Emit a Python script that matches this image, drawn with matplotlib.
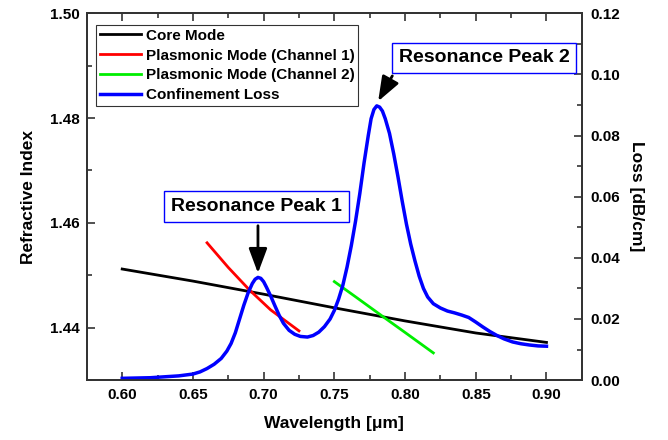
import matplotlib
matplotlib.use("Agg")
import matplotlib.pyplot as plt
from matplotlib.ticker import MultipleLocator

plt.rcParams["font.family"] = ["Liberation Sans", "DejaVu Sans"]
plt.rcParams["font.weight"] = "bold"

# values
core_wl = [0.60, 0.65, 0.70, 0.75, 0.80, 0.85, 0.90]
core_n = [1.4512, 1.4489, 1.4464, 1.4438, 1.4413, 1.4390, 1.4372]

ch1_wl = [0.660, 0.675, 0.690, 0.705, 0.725]
ch1_n = [1.4562, 1.4515, 1.4472, 1.4434, 1.4394]

ch2_wl = [0.750, 0.765, 0.785, 0.800, 0.820]
ch2_n = [1.4488, 1.4459, 1.4420, 1.4391, 1.4352]

loss_wl = [0.600, 0.620, 0.640, 0.650, 0.655, 0.660, 0.665, 0.670, 0.674, 0.677,
           0.680, 0.683, 0.686, 0.689, 0.692, 0.694, 0.696, 0.698, 0.700, 0.702,
           0.705, 0.708, 0.711, 0.714, 0.718, 0.722, 0.726, 0.731, 0.735, 0.739,
           0.743, 0.747, 0.750, 0.753, 0.756, 0.759, 0.762, 0.765, 0.768, 0.771,
           0.774, 0.776, 0.778, 0.780, 0.782, 0.784, 0.786, 0.789, 0.792, 0.795,
           0.798, 0.801, 0.804, 0.807, 0.810, 0.813, 0.816, 0.820, 0.825, 0.830,
           0.835, 0.840, 0.845, 0.850, 0.855, 0.860, 0.865, 0.870, 0.876, 0.882,
           0.888, 0.894, 0.900]
loss_db = [0.0006, 0.0008, 0.0014, 0.0020, 0.0027, 0.0038, 0.0052, 0.0071, 0.0095, 0.0120,
           0.0155, 0.0200, 0.0245, 0.0285, 0.0316, 0.0330, 0.0336, 0.0333, 0.0322, 0.0304,
           0.0275, 0.0243, 0.0212, 0.0186, 0.0163, 0.0150, 0.0143, 0.0141, 0.0146, 0.0157,
           0.0175, 0.0200, 0.0228, 0.0265, 0.0310, 0.0370, 0.0440, 0.0520, 0.0610, 0.0710,
           0.0800, 0.0855, 0.0885, 0.0897, 0.0893, 0.0880, 0.0855, 0.0807, 0.0740, 0.0665,
           0.0585, 0.0510, 0.0445, 0.0390, 0.0340, 0.0300, 0.0272, 0.0250, 0.0236, 0.0226,
           0.0220, 0.0213, 0.0205, 0.0190, 0.0174, 0.0159, 0.0146, 0.0135, 0.0125, 0.0119,
           0.0115, 0.0112, 0.0111]

fig = plt.figure(figsize=(6.68, 4.40), dpi=100)
ax = fig.add_axes([0.130, 0.136, 0.741, 0.834])
ax2 = ax.twinx()

l1, = ax.plot(core_wl, core_n, color="black", lw=2, label="Core Mode")
l2, = ax.plot(ch1_wl, ch1_n, color="#ff0000", lw=2, label="Plasmonic Mode (Channel 1)")
l3, = ax.plot(ch2_wl, ch2_n, color="#00ee00", lw=2, label="Plasmonic Mode (Channel 2)")
l4, = ax2.plot(loss_wl, loss_db, color="#0000ff", lw=2.5, label="Confinement Loss",
               solid_joinstyle="round")

ax.set_xlim(0.575, 0.925)
ax.set_ylim(1.43, 1.50)
ax2.set_ylim(0.0, 0.12)

ax.xaxis.set_major_locator(MultipleLocator(0.05))
ax.xaxis.set_minor_locator(MultipleLocator(0.025))
ax.yaxis.set_major_locator(MultipleLocator(0.02))
ax.yaxis.set_minor_locator(MultipleLocator(0.01))
ax2.yaxis.set_major_locator(MultipleLocator(0.02))
ax2.yaxis.set_minor_locator(MultipleLocator(0.01))

ax.set_xticks([0.60, 0.65, 0.70, 0.75, 0.80, 0.85, 0.90])
ax.set_xticklabels(["0.60", "0.65", "0.70", "0.75", "0.80", "0.85", "0.90"])
ax.set_yticks([1.44, 1.46, 1.48, 1.50])
ax.set_yticklabels(["1.44", "1.46", "1.48", "1.50"])
ax2.set_yticks([0.00, 0.02, 0.04, 0.06, 0.08, 0.10, 0.12])
ax2.set_yticklabels(["0.00", "0.02", "0.04", "0.06", "0.08", "0.10", "0.12"])

ax.tick_params(axis="x", which="both", direction="in", top=True, labelsize=11, pad=6)
ax.tick_params(axis="y", which="both", direction="in", right=False, labelsize=11, pad=5)
ax2.tick_params(axis="y", which="both", direction="in", labelsize=11, pad=6)
for a in (ax, ax2):
    a.tick_params(which="major", length=6, width=1.2, color="#333333")
    a.tick_params(which="minor", length=3.5, width=1.2, color="#333333")
    for s in a.spines.values():
        s.set_linewidth(1.3)
        s.set_color("#333333")

ax.set_xlabel("Wavelength [μm]", fontsize=12.5, fontweight="bold", labelpad=10)
ax.set_ylabel("Refractive Index", fontsize=12.5, fontweight="bold", labelpad=10)
ax2.set_ylabel("Loss [dB/cm]", fontsize=12.5, fontweight="bold", rotation=270, labelpad=17)

# legend collects the lines of both axes
leg = ax.legend(handles=[l1, l2, l3, l4], loc="upper left", bbox_to_anchor=(0.019, 0.968),
                fontsize=11, frameon=True, fancybox=False, edgecolor="black",
                handlelength=2.7, handletextpad=0.3, labelspacing=0.38, borderpad=0.25,
                borderaxespad=0)
leg.get_frame().set_linewidth(0.8)
for t in leg.get_texts():
    t.set_fontweight("bold")

box = dict(boxstyle="square,pad=0.35", fc="white", ec="#0000ff", lw=1)
ax2.text(0.6948, 0.0567, "Resonance Peak 1", fontsize=14, fontweight="bold",
         ha="center", va="center", bbox=box)
ax2.text(0.856, 0.1054, "Resonance Peak 2", fontsize=14, fontweight="bold",
         ha="center", va="center", bbox=box)

arrow = dict(arrowstyle="-|>,head_length=0.75,head_width=0.28", color="black", lw=2,
             mutation_scale=20, shrinkA=0, shrinkB=0)
ax2.annotate("", xy=(0.696, 0.0350), xytext=(0.696, 0.0505), arrowprops=arrow)
ax2.annotate("", xy=(0.781, 0.0912), xytext=(0.791, 0.0995), arrowprops=arrow)

fig.savefig("out.png", dpi=100)
